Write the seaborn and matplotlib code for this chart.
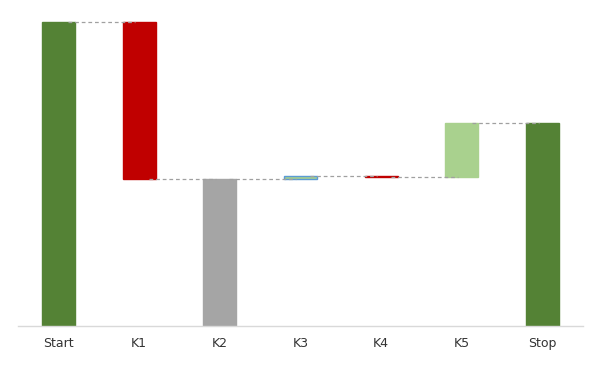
import matplotlib
matplotlib.use("Agg")
import matplotlib.pyplot as plt
import seaborn as sns
import pandas as pd

categories = ["Start", "K1", "K2", "K3", "K4", "K5", "Stop"]
changes = [100.0, -51.6, 48.4, 1.0, -0.3, 17.7, 66.8]
kinds = ["total", "delta", "subtotal", "delta", "delta", "delta", "total"]
colors = ["#548235", "#C00000", "#A5A5A5", "#A9D18E", "#C00000", "#A9D18E", "#548235"]
edges = ["#548235", "#C00000", "#A5A5A5", "#5B9BD5", "#C00000", "#A9D18E", "#548235"]

bottoms, heights, levels = [], [], []
level = 0.0
for c, k in zip(changes, kinds):
    if k in ("total", "subtotal"):
        bottoms.append(0.0)
        heights.append(c)
        level = c
    else:
        if c >= 0:
            bottoms.append(level)
            heights.append(c)
        else:
            bottoms.append(level + c)
            heights.append(-c)
        level = level + c
    levels.append(level)

df = pd.DataFrame({"cat": categories, "h": heights})

sns.set_style("white")
plt.rcParams["font.family"] = ["DejaVu Sans"]
fig = plt.figure(figsize=(6.01, 3.65), dpi=100)
ax = fig.add_axes([18/601, 39/365, 565/601, (326-18)/365])

sns.barplot(data=df, x="cat", y="h", bottom=bottoms, color="#548235",
            width=0.41, ax=ax, saturation=1, zorder=2)
for patch, fc, ec in zip(ax.patches, colors, edges):
    patch.set_facecolor(fc)
    patch.set_edgecolor(ec)
    patch.set_linewidth(1.0)

for i in range(len(categories) - 1):
    ax.plot([i + 0.12, i + 1 - 0.05], [levels[i], levels[i]], ls=(0, (3, 2.3)),
            color="#A0A0A0", lw=0.9, zorder=3)

ax.set_xlim(-0.5, 6.5)
ax.set_ylim(0, 101.3)
ax.set_xlabel("")
ax.set_ylabel("")
ax.set_yticks([])
for s in ["top", "right", "left"]:
    ax.spines[s].set_visible(False)
ax.spines["bottom"].set_color("#D9D9D9")
ax.spines["bottom"].set_linewidth(1)
ax.tick_params(axis="x", length=0, pad=8, labelsize=9, labelcolor="#333333")

fig.savefig("out.png", dpi=100)
